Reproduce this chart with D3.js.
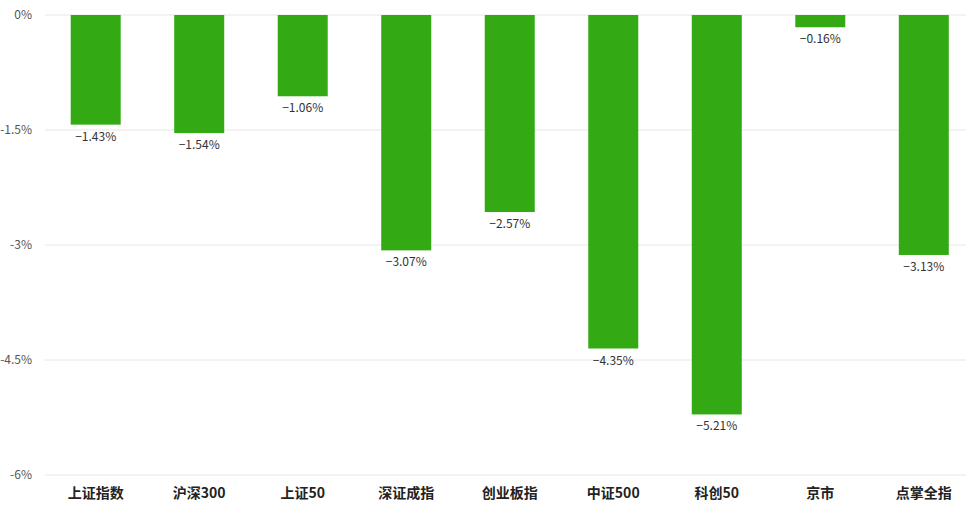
<!DOCTYPE html><html><head><meta charset="utf-8"><script src="https://cdn.jsdelivr.net/npm/d3@7"></script>
<style>body{margin:0;background:#fff}</style></head><body><svg width="966" height="507"></svg>
<script>
const categories=["上证指数","沪深300","上证50","深证成指","创业板指","中证500","科创50","京市","点掌全指"];
const values=[-1.43,-1.54,-1.06,-3.07,-2.57,-4.35,-5.21,-0.16,-3.13];
const yTicks=[0,-1.5,-3,-4.5,-6];
const svg=d3.select("svg");
const font="'Noto Sans CJK SC','Noto Sans',sans-serif";
const x=d3.scaleBand().domain(categories).range([44,975.5]).paddingInner(0.517).paddingOuter(0.258);
const y=d3.scaleLinear().domain([-6,0]).range([475,15]);
svg.append("g").selectAll("line").data(yTicks).join("line")
 .attr("x1",45).attr("x2",966).attr("y1",d=>y(d)).attr("y2",d=>y(d)).attr("stroke","#e6e6e6");
svg.append("g").selectAll("text").data(yTicks).join("text")
 .attr("x",32).attr("y",d=>y(d)+4).attr("text-anchor","end").attr("font-family",font).attr("font-size",12).attr("fill","#555")
 .text(d=>(d===0?"0":d)+"%");
svg.append("g").selectAll("rect").data(values).join("rect")
 .attr("x",(d,i)=>x(categories[i])).attr("width",x.bandwidth()).attr("y",y(0)).attr("height",d=>y(d)-y(0)).attr("fill","#33aa14");
svg.append("g").selectAll("text").data(values).join("text")
 .attr("x",(d,i)=>x(categories[i])+x.bandwidth()/2).attr("y",d=>y(d)+16).attr("text-anchor","middle")
 .attr("font-family",font).attr("font-size",12).attr("fill","#333").text(d=>d.toFixed(2).replace("-","−")+"%");
svg.append("g").selectAll("text").data(categories).join("text")
 .attr("x",d=>x(d)+x.bandwidth()/2).attr("y",498).attr("text-anchor","middle")
 .attr("font-family",font).attr("font-size",14).attr("font-weight","bold").attr("fill","#222").text(d=>d);
</script></body></html>
